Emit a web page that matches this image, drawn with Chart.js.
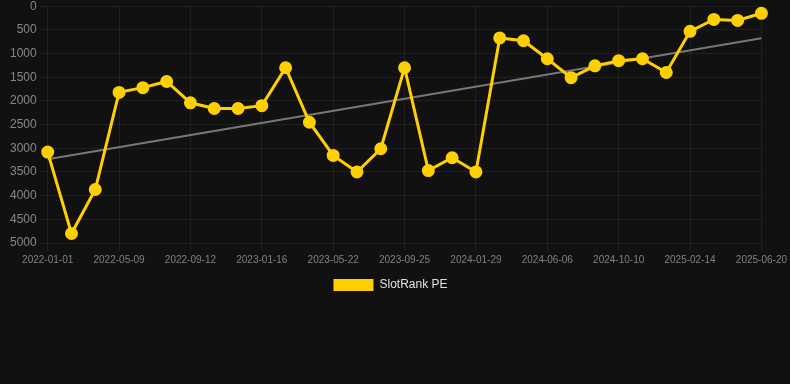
<!DOCTYPE html>
<html>
<head>
<meta charset="utf-8">
<script src="https://cdn.jsdelivr.net/npm/chart.js@4.4.1/dist/chart.umd.min.js"></script>
<style>
  html, body { margin: 0; padding: 0; background: #111111; overflow: hidden; }
  #wrap { position: relative; width: 790px; height: 305px; margin-top: -4px; }
</style>
</head>
<body>
<div id="wrap"><canvas id="c"></canvas></div>
<script>
const labels = [
  "2022-01-01","2022-02-13","2022-03-28","2022-05-09","2022-06-20","2022-08-01",
  "2022-09-12","2022-10-24","2022-12-05","2023-01-16","2023-02-27","2023-04-10",
  "2023-05-22","2023-07-03","2023-08-14","2023-09-25","2023-11-06","2023-12-18",
  "2024-01-29","2024-03-12","2024-04-24","2024-06-06","2024-07-18","2024-08-29",
  "2024-10-10","2024-11-21","2025-01-02","2025-02-14","2025-03-28","2025-05-09",
  "2025-06-20"
];
const rankValues = [
  3080, 4800, 3870, 1820, 1720, 1590,
  2040, 2160, 2160, 2100, 1300, 2450,
  3150, 3500, 3010, 1300, 3470, 3200,
  3500, 670, 730, 1110, 1510, 1260,
  1150, 1110, 1400, 530, 280, 300,
  150
];
const trendStart = 3230;
const trendEnd = 675;
const yTicks = [0, 500, 1000, 1500, 2000, 2500, 3000, 3500, 4000, 4500, 5000];

const last = labels.length - 1;
const trendValues = labels.map((_, i) => i === 0 ? trendStart : (i === last ? trendEnd : null));

const legendShift = {
  id: 'legendShift',
  afterLayout(chart) {
    if (chart.legend) { chart.legend.left -= 6; chart.legend.right -= 6; }
  }
};

new Chart(document.getElementById('c'), {
  type: 'line',
  data: {
    labels: labels,
    datasets: [
      {
        label: 'SlotRank PE',
        data: rankValues,
        borderColor: '#ffd000',
        backgroundColor: '#ffd000',
        borderWidth: 3,
        pointRadius: 5,
        pointBackgroundColor: '#ffd000',
        pointBorderColor: '#ffd000',
        tension: 0,
        order: 1
      },
      {
        label: 'trend',
        data: trendValues,
        spanGaps: true,
        borderColor: '#777777',
        borderWidth: 2,
        pointRadius: 0,
        fill: false,
        order: 2
      }
    ]
  },
  plugins: [legendShift],
  options: {
    responsive: true,
    maintainAspectRatio: false,
    animation: false,
    layout: { padding: { left: 7, right: 4, top: 0, bottom: 0 } },
    plugins: {
      tooltip: { enabled: false },
      legend: {
        position: 'bottom',
        labels: {
          color: '#e0e0e0',
          font: { family: 'Arial, "Liberation Sans", sans-serif', size: 12 },
          boxWidth: 40,
          boxHeight: 12,
          filter: (item) => item.text !== 'trend',
          generateLabels: (chart) => Chart.defaults.plugins.legend.labels.generateLabels(chart)
            .map(it => Object.assign(it, { lineWidth: 0 }))
        }
      }
    },
    scales: {
      x: {
        offset: false,
        grid: {
          color: (ctx) => (ctx.index % 3 === 0 ? 'rgba(255,255,255,0.06)' : 'rgba(0,0,0,0)'),
          drawTicks: true
        },
        border: { display: false },
        ticks: {
          autoSkip: false,
          maxRotation: 0,
          color: '#808080',
          font: { family: 'Arial, "Liberation Sans", sans-serif', size: 10 },
          callback: function (v, i) { return i % 3 === 0 ? labels[i] : ''; }
        }
      },
      y: {
        reverse: true,
        min: yTicks[0],
        max: yTicks[yTicks.length - 1],
        afterBuildTicks: (axis) => { axis.ticks = yTicks.map(v => ({ value: v })); },
        grid: { color: 'rgba(255,255,255,0.06)' },
        border: { display: false },
        ticks: {
          color: '#888888',
          font: { family: 'Arial, "Liberation Sans", sans-serif', size: 12 },
          callback: (v) => String(v)
        }
      }
    }
  }
});
</script>
</body>
</html>
